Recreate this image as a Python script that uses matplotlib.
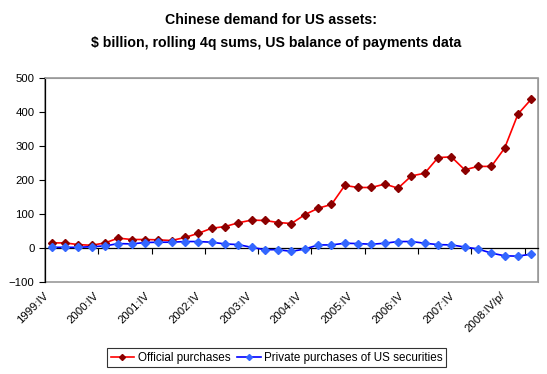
import numpy as np
import matplotlib
matplotlib.use('Agg')
import matplotlib.pyplot as plt
import matplotlib.transforms as mtransforms

plt.rcParams['font.family'] = ['Liberation Sans', 'DejaVu Sans']

# quarterly, 1999:IV .. 2008:IV
official = [15, 15, 10, 8, 15, 29, 25, 25, 24, 22, 31, 43, 58, 63, 74, 82, 81, 75,
            72, 98, 117, 128, 184, 178, 178, 188, 176, 212, 220, 266, 268, 230, 240, 240,
            294, 394, 438]
private = [2, 2, 2, 4, 6, 13, 12, 16, 17, 17, 19, 19, 17, 12, 10, 2, -5, -5,
           -10, -3, 9, 9, 14, 13, 11, 14, 19, 19, 14, 10, 9, 3, -3, -15,
           -23, -24, -18]
year_labels = ['1999:IV', '2000:IV', '2001:IV', '2002:IV', '2003:IV', '2004:IV',
               '2005:IV', '2006:IV', '2007:IV', '2008:IV/p/']

fig = plt.figure(figsize=(5.47, 3.74), dpi=100)
ax = fig.add_axes([0.0823, 0.246, 0.9012, 0.5454])

x = np.arange(len(official))
ax.plot(x, official, color='#FF0000', lw=1.2, marker='D', ms=3.8,
        mfc='#8B0000', mec='#8B0000', label='Official purchases', zorder=3)
ax.plot(x, private, color='#0000FF', lw=1.2, marker='D', ms=3.8,
        mfc='#3366FF', mec='#3366FF', label='Private purchases of US securities', zorder=3)

ax.set_xlim(-0.5, len(official) - 0.5)
ax.set_ylim(-100, 500)
ax.set_yticks(range(-100, 501, 100))
ax.tick_params(axis='y', direction='out', length=4, labelsize=8.2, width=0.8)

# category axis crosses at zero, labels sit below the plot
ax.spines['bottom'].set_position(('data', 0))
ax.spines['bottom'].set_color('black')
ax.spines['bottom'].set_linewidth(0.9)
ax.set_xticks(np.arange(3.5, len(official) - 1, 4))
ax.tick_params(axis='x', direction='out', length=4, width=0.8, labelbottom=False)
ax.spines['left'].set_color('black')
ax.spines['left'].set_linewidth(0.9)
for s in ['top', 'right']:
    ax.spines[s].set_color('#999999')
ax.patch.set_edgecolor('#999999')
ax.patch.set_linewidth(1.2)

trans = mtransforms.blended_transform_factory(ax.transData, ax.transAxes)
for i, lab in enumerate(year_labels):
    ax.text(-0.65 + 3.81 * i, -0.04, lab, transform=trans, rotation=45,
            ha='right', va='top', rotation_mode='anchor', fontsize=8.2)

fig.text(0.496, 0.947, 'Chinese demand for US assets:', ha='center', va='center',
         fontsize=10.2, fontweight='bold')
fig.text(0.505, 0.885, '$ billion, rolling 4q sums, US balance of payments data',
         ha='center', va='center', fontsize=10.2, fontweight='bold')

leg = fig.legend(loc='center', bbox_to_anchor=(0.506, 0.043), ncol=2, fontsize=8.4,
                 frameon=True, fancybox=False, edgecolor='black', handlelength=2,
                 handletextpad=0.3, columnspacing=0.6, borderpad=0.3, markerscale=0.8)
leg.get_frame().set_linewidth(0.8)

fig.savefig('out.png', dpi=100)
